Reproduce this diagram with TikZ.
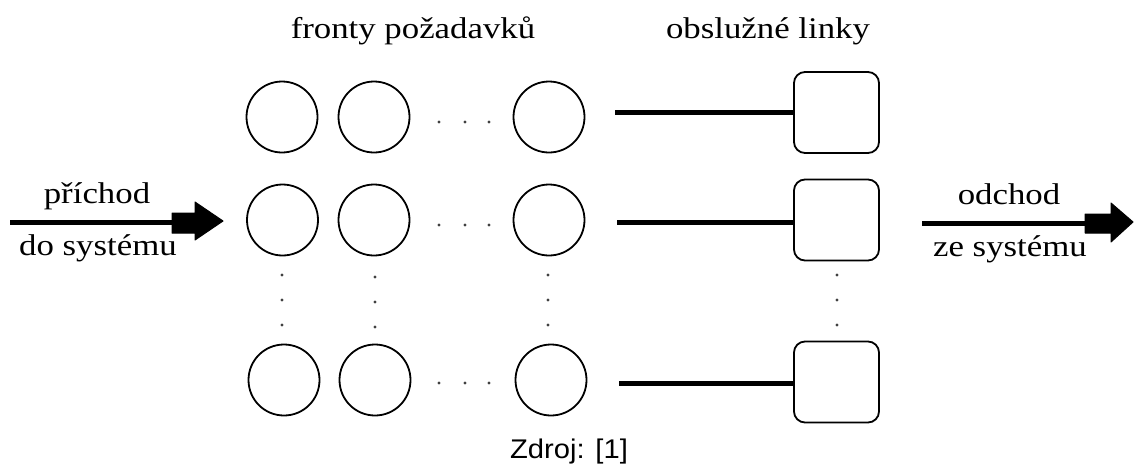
\documentclass[tikz,border=0pt]{standalone}
\usepackage{fontspec}
\setmainfont{Liberation Serif}
\newfontfamily\labelfont[FakeStretch=1.16]{Liberation Serif}
\newfontfamily\captionfont[FakeStretch=1.08]{Liberation Sans}
\begin{document}
\begin{tikzpicture}[x=1pt,y=-1pt,
  queue/.style={draw, circle, line width=1.8pt, minimum size=71pt, inner sep=0pt},
  server/.style={draw, rectangle, rounded corners=11pt, line width=1.8pt,
    minimum width=85pt, minimum height=81pt, inner sep=0pt},
  feed/.style={line width=5pt},
  label/.style={anchor=base, inner sep=0pt, font=\labelfont\fontsize{30}{36}\selectfont},
  dotmark/.style={fill=black!75},
  headfill/.style={fill=black, draw=black, line width=1pt, line join=round}]
\useasboundingbox (0,0) rectangle (1136,467);

% headings
\node[label] (hq) at (413,38) {fronty požadavků};
\node[label] (hs) at (768,38) {obslužné linky};

% queues: three rows of waiting places
\node[queue] (q11) at (282,117) {};
\node[queue] (q12) at (374,117) {};
\node[queue] (q13) at (549,117) {};
\node[queue] (q21) at (282.5,220) {};
\node[queue] (q22) at (374,220) {};
\node[queue] (q23) at (549,220) {};
\node[queue] (q31) at (284,380) {};
\node[queue] (q32) at (375,380) {};
\node[queue] (q33) at (551,380) {};

% horizontal ellipses inside the rows
\foreach \y in {122,225,383}
  \foreach \x in {439,465,489}
    \fill[dotmark] (\x,\y) circle (1.7);
% vertical ellipses between the rows
\foreach \x/\d in {282/0,375/2,548/0,837/0}
  \foreach \y in {275,300,325}
    \fill[dotmark] (\x,\y+\d) circle (1.7);

% service lines
\node[server] (s1) at (836.5,112.5) {};
\node[server] (s2) at (836.5,220) {};
\node[server] (s3) at (836.5,382) {};

\coordinate (f1) at (615,112);
\coordinate (f2) at (617,222);
\coordinate (f3) at (619,383);
\draw[feed] (f1) -- (f1 -| s1.west);
\draw[feed] (f2) -- (f2 -| s2.west);
\draw[feed] (f3) -- (f3 -| s3.west);

% arrival
\coordinate (ina) at (10,222);
\coordinate (inb) at (174,222);
\draw[feed] (ina) -- (inb);
\fill[headfill] (172,213) -- (195,213) -- (195,202) -- (223,221)
  -- (195,240) -- (195,233) -- (172,233) -- cycle;
\node[label] (lin1) at (97,203) {příchod};
\node[label] (lin2) at (98,255) {do systému};

% departure
\coordinate (outa) at (922,223);
\coordinate (outb) at (1087,223);
\draw[feed] (outa) -- (outb);
\fill[headfill] (1085,214) -- (1111,214) -- (1111,203) -- (1133,222)
  -- (1111,242) -- (1111,233) -- (1085,233) -- cycle;
\node[label] (lout1) at (1009,204) {odchod};
\node[label] (lout2) at (1010,256) {ze systému};

% source
\node[anchor=base, inner sep=0pt, font=\captionfont\fontsize{27}{32}\selectfont]
  (src) at (569,458) {Zdroj: [1]};
\end{tikzpicture}
\end{document}
